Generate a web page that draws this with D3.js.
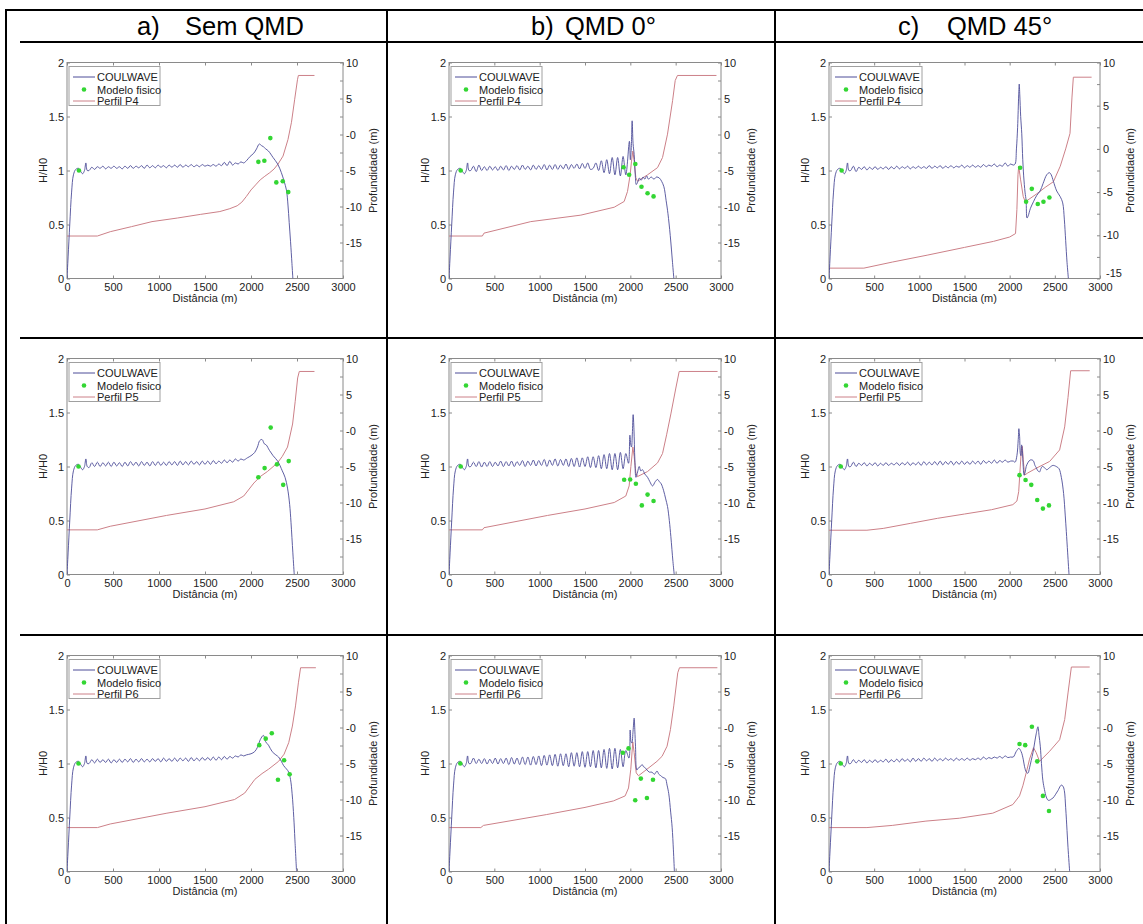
<!DOCTYPE html>
<html>
<head>
<meta charset="utf-8">
<script src="https://cdn.jsdelivr.net/npm/d3@7"></script>
<style>
  body { margin: 0; background: #fff; }
  svg { display: block; font-family: "Liberation Sans", Arial, sans-serif; }
</style>
</head>
<body>
<svg id="fig" width="1143" height="924"></svg>
<script>
// ---------------- data ----------------
const columnTitles = [["a)", "Sem QMD"], ["b)", "QMD 0°"], ["c)", "QMD 45°"]];
const profileNames = ["Perfil P4", "Perfil P5", "Perfil P6"];
const distTicks = [0, 500, 1000, 1500, 2000, 2500, 3000];
const ratioTicks = [0, 0.5, 1, 1.5, 2];
const depthLabels = [10, 5, 0, -5, -10, -15];
const depthTicksDeep = [10, 7.5, 5, 2.5, 0, -2.5, -5, -7.5, -10, -12.5, -15, -17.5];
const depthTicksShallow = [10, 7.5, 5, 2.5, 0, -2.5, -5, -7.5, -10, -12.5, -15];

// COULWAVE H/H0: common entrance, then wave-field samples every 30 m from 240 m, then the shoaling tail
const cwStart = [[0,0],[12,0.2],[30,0.5],[50,0.8],[70,0.96],[95,1.01],[125,1.02],[150,0.99],[170,0.97],[190,1.0],[205,1.07],[220,1.0]];
const waveStep = 30, waveFrom = 240;

const waveSemP4 = [1.00,1.03,1.01,1.035,1.02,1.04,1.015,1.035,1.02,1.04,1.02,1.035,1.015,1.04,1.02,1.045,1.02,1.04,1.025,1.045,1.02,1.05,1.025,1.045,1.025,1.05,1.03,1.045,1.025,1.05,1.03,1.05,1.03,1.055,1.03,1.05,1.035,1.055,1.035,1.05,1.035,1.055,1.04,1.05,1.04,1.055,1.04,1.06,1.045,1.075,1.045,1.085,1.05,1.07,1.06,1.08,1.07,1.09];
const tailSemP4 = [[1990,1.13],[2030,1.16],[2060,1.2],[2090,1.245],[2115,1.23],[2135,1.22],[2160,1.2],[2190,1.18],[2240,1.12],[2290,1.06],[2330,0.98],[2360,0.9],[2385,0.82],[2402,0.68],[2415,0.52],[2430,0.34],[2445,0.14],[2455,0]];
const waveSemP5 = [0.99,1.035,1.0,1.04,1.0,1.035,1.005,1.04,1.0,1.04,1.005,1.035,1.0,1.04,1.005,1.045,1.01,1.04,1.005,1.045,1.01,1.04,1.005,1.045,1.01,1.045,1.01,1.04,1.01,1.045,1.015,1.045,1.01,1.05,1.015,1.045,1.015,1.05,1.02,1.045,1.015,1.05,1.02,1.05,1.02,1.055,1.025,1.05,1.03,1.06,1.035,1.06,1.04,1.07,1.05,1.07,1.06];
const tailSemP5 = [[1960,1.08],[2000,1.1],[2040,1.13],[2070,1.18],[2095,1.24],[2120,1.25],[2145,1.21],[2165,1.2],[2200,1.15],[2240,1.1],[2290,1.05],[2340,0.96],[2370,0.9],[2397,0.8],[2420,0.65],[2435,0.48],[2455,0.2],[2470,0]];
const waveSemP6 = [1.0,1.035,1.005,1.04,1.01,1.035,1.01,1.04,1.005,1.035,1.01,1.04,1.01,1.04,1.015,1.045,1.01,1.04,1.015,1.045,1.015,1.04,1.015,1.045,1.02,1.045,1.015,1.05,1.02,1.045,1.02,1.05,1.02,1.05,1.025,1.05,1.02,1.055,1.025,1.05,1.025,1.055,1.03,1.055,1.03,1.06,1.03,1.06,1.035,1.065,1.04,1.065,1.05,1.07,1.06,1.08,1.07];
const tailSemP6 = [[1950,1.08],[2000,1.09],[2040,1.11],[2070,1.15],[2100,1.22],[2135,1.26],[2160,1.2],[2190,1.17],[2230,1.11],[2270,1.08],[2300,1.06],[2330,1.02],[2355,0.98],[2385,0.95],[2410,0.92],[2430,0.85],[2447,0.72],[2465,0.5],[2477,0.3],[2495,0]];

const waveQ0P4 = [1.0,1.04,0.99,1.05,1.0,1.035,1.0,1.04,1.005,1.035,1.0,1.04,1.005,1.045,1.0,1.04,1.01,1.045,1.005,1.05,1.01,1.04,1.005,1.05,1.01,1.045,1.01,1.055,1.005,1.05,1.01,1.055,1.01,1.05,1.015,1.06,1.01,1.055,1.02,1.06,1.015,1.065,1.02,1.07,1.01,1.02,1.07,1.0,1.09,0.98,1.1,0.97,1.12,0.96,1.12,0.95,1.13,0.96];
const tailQ0P4 = [[1990,1.27],[2000,1.1],[2010,1.2],[2020,1.46],[2030,1.25],[2042,1.15],[2055,0.95],[2065,0.87],[2080,0.89],[2100,0.93],[2120,0.91],[2140,0.94],[2160,0.92],[2180,0.95],[2200,0.92],[2230,0.94],[2260,0.92],[2290,0.94],[2320,0.93],[2345,0.9],[2370,0.85],[2395,0.72],[2415,0.6],[2440,0.4],[2465,0.15],[2480,0]];
const waveQ0P5 = [1.0,1.04,1.0,1.045,0.995,1.04,1.0,1.045,1.0,1.04,1.005,1.05,1.0,1.045,1.005,1.05,1.0,1.045,1.01,1.055,1.0,1.05,1.01,1.06,1.005,1.055,1.01,1.065,1.0,1.06,1.01,1.07,1.005,1.065,1.01,1.07,1.0,1.075,1.0,1.08,0.995,1.08,1.0,1.09,0.99,1.09,0.99,1.1,0.98,1.11,0.98,1.12,0.97,1.12,0.97,1.13,0.98,1.12];
const tailQ0P5 = [[1980,1.03],[1995,1.29],[2005,1.2],[2013,1.18],[2022,1.3],[2031,1.48],[2040,1.34],[2050,1.06],[2062,0.9],[2080,0.95],[2098,1.0],[2115,0.96],[2134,0.97],[2160,0.93],[2190,0.9],[2215,0.86],[2245,0.82],[2275,0.86],[2300,0.88],[2320,0.86],[2340,0.84],[2366,0.78],[2390,0.7],[2410,0.63],[2430,0.5],[2447,0.35],[2470,0.12],[2484,0]];
const waveQ0P6 = [1.0,1.05,1.0,1.04,1.0,1.045,0.995,1.04,1.0,1.05,0.995,1.045,1.0,1.05,0.99,1.055,0.995,1.05,0.99,1.06,0.99,1.06,0.985,1.065,0.99,1.07,0.98,1.075,0.985,1.08,0.98,1.085,0.975,1.09,0.98,1.09,0.97,1.1,0.975,1.1,0.97,1.11,0.965,1.11,0.97,1.12,0.96,1.12,0.96,1.13,0.955,1.14,0.95,1.14,0.96,1.13,0.97,1.12];
const tailQ0P6 = [[1985,1.05],[1998,1.31],[2008,1.2],[2017,1.19],[2030,1.3],[2042,1.42],[2050,1.3],[2057,1.16],[2072,0.94],[2090,0.96],[2109,0.97],[2130,0.99],[2146,0.97],[2165,0.96],[2183,0.94],[2210,0.92],[2239,0.92],[2265,0.9],[2294,0.93],[2315,0.9],[2331,0.89],[2360,0.87],[2387,0.86],[2405,0.8],[2424,0.72],[2445,0.55],[2461,0.41],[2475,0.2],[2486,0]];

const waveQ45P4 = [1.0,1.04,0.99,1.03,1.01,1.035,1.005,1.03,1.01,1.035,1.01,1.03,1.015,1.035,1.01,1.035,1.015,1.04,1.015,1.035,1.02,1.04,1.015,1.035,1.02,1.04,1.02,1.035,1.02,1.045,1.02,1.04,1.025,1.045,1.02,1.04,1.025,1.045,1.025,1.04,1.03,1.05,1.025,1.045,1.03,1.05,1.03,1.045,1.03,1.055,1.035,1.05,1.04,1.06,1.035,1.05,1.04,1.07,1.04,1.06];
const tailQ45P4 = [[2040,1.05],[2060,1.06],[2075,1.2],[2088,1.4],[2100,1.7],[2106,1.8],[2112,1.7],[2122,1.5],[2134,1.34],[2145,1.1],[2155,0.95],[2170,0.8],[2182,0.72],[2192,0.56],[2205,0.58],[2230,0.65],[2263,0.71],[2300,0.77],[2337,0.81],[2370,0.88],[2410,0.96],[2440,0.98],[2460,0.96],[2484,0.9],[2521,0.81],[2558,0.76],[2587,0.7],[2605,0.55],[2620,0.35],[2635,0.15],[2650,0]];
const waveQ45P5 = [1.0,1.04,1.0,1.03,1.01,1.035,1.005,1.03,1.01,1.035,1.005,1.03,1.01,1.035,1.01,1.03,1.015,1.035,1.01,1.035,1.015,1.04,1.01,1.035,1.015,1.04,1.01,1.045,1.015,1.04,1.015,1.045,1.015,1.05,1.015,1.045,1.02,1.05,1.015,1.045,1.02,1.05,1.02,1.045,1.02,1.05,1.025,1.05,1.02,1.055,1.03,1.05,1.03,1.06,1.03,1.055,1.04,1.06,1.04,1.05,1.05];
const tailQ45P5 = [[2060,1.04],[2080,1.1],[2095,1.25],[2102,1.35],[2110,1.28],[2118,1.12],[2125,1.1],[2132,1.2],[2140,1.15],[2150,1.0],[2160,0.92],[2172,0.95],[2183,1.0],[2205,1.04],[2227,1.06],[2250,1.06],[2264,1.05],[2280,1.01],[2294,0.99],[2312,0.96],[2331,0.95],[2346,0.98],[2361,1.0],[2385,0.99],[2410,0.97],[2442,0.99],[2479,1.01],[2516,1.0],[2546,0.98],[2572,0.9],[2597,0.75],[2615,0.55],[2627,0.4],[2642,0.2],[2657,0]];
const waveQ45P6 = [1.0,1.035,1.005,1.03,1.01,1.035,1.005,1.03,1.01,1.035,1.01,1.03,1.015,1.04,1.01,1.035,1.015,1.04,1.015,1.045,1.02,1.04,1.015,1.05,1.02,1.045,1.02,1.05,1.025,1.045,1.02,1.05,1.025,1.045,1.025,1.05,1.03,1.045,1.025,1.05,1.03,1.045,1.03,1.05,1.03,1.045,1.035,1.05,1.035,1.06,1.04,1.055,1.045,1.06,1.05,1.065,1.05,1.07,1.055,1.06];
const tailQ45P6 = [[2040,1.06],[2072,1.11],[2102,1.14],[2127,1.11],[2150,1.04],[2165,0.97],[2185,0.92],[2202,0.91],[2220,0.96],[2239,1.03],[2258,1.1],[2276,1.19],[2295,1.28],[2313,1.34],[2325,1.26],[2339,1.16],[2352,1.0],[2368,0.84],[2385,0.76],[2405,0.69],[2425,0.66],[2442,0.66],[2460,0.67],[2479,0.68],[2505,0.71],[2535,0.75],[2560,0.79],[2572,0.8],[2590,0.79],[2605,0.75],[2620,0.59],[2635,0.38],[2646,0.22],[2664,0]];

// bottom profiles, depth (m)
const profSemP4 = [[0,-14.1],[330,-14.1],[470,-13.5],[700,-12.8],[924,-12.1],[1200,-11.6],[1449,-11.1],[1662,-10.7],[1770,-10.3],[1850,-9.9],[1900,-9.4],[1950,-8.6],[2000,-7.7],[2050,-7.0],[2100,-6.3],[2150,-5.8],[2204,-5.3],[2250,-4.8],[2294,-4.1],[2348,-3.0],[2402,-0.7],[2440,1.7],[2475,4.9],[2505,7.6],[2515,8.2],[2690,8.2]];
const profSemP5 = [[0,-13.8],[329,-13.8],[470,-13.3],[1080,-11.8],[1500,-10.9],[1812,-9.9],[1921,-9.1],[2031,-7.3],[2100,-6.4],[2178,-5.7],[2288,-4.5],[2340,-3.6],[2397,-2.3],[2452,0.9],[2480,4.0],[2507,7.3],[2525,8.2],[2690,8.2]];
const profSemP6 = [[0,-13.9],[331,-13.9],[470,-13.4],[1086,-11.9],[1500,-11.0],[1822,-10.0],[1932,-9.1],[2042,-7.2],[2120,-6.4],[2190,-5.8],[2300,-4.7],[2360,-3.7],[2410,-2.1],[2450,0.2],[2484,3.0],[2515,6.2],[2539,8.3],[2705,8.3]];
const profQ0P4 = [[0,-14.1],[368,-14.1],[386,-13.7],[902,-12.1],[1454,-11.2],[1822,-10.1],[1932,-9.3],[1969,-7.9],[1998,-5.6],[2013,-3.7],[2028,-2.3],[2042,-3.7],[2061,-6.0],[2079,-6.5],[2190,-5.6],[2300,-4.6],[2355,-3.2],[2410,0.05],[2466,4.7],[2495,7.5],[2520,8.2],[2950,8.2]];
const profQ0P5 = [[0,-13.8],[368,-13.8],[386,-13.5],[1086,-11.8],[1500,-10.9],[1822,-10.0],[1950,-9.1],[1987,-7.7],[2006,-5.0],[2028,-2.3],[2042,-3.6],[2061,-5.9],[2079,-6.4],[2190,-5.7],[2300,-4.5],[2355,-3.2],[2400,-0.6],[2447,2.3],[2502,5.9],[2539,8.2],[2962,8.2]];
const profQ0P6 = [[0,-13.9],[351,-13.9],[380,-13.6],[1073,-12.1],[1500,-11.1],[1813,-10.2],[1943,-9.5],[1980,-8.4],[2005,-5.8],[2027,-2.0],[2042,-3.5],[2065,-6.3],[2090,-6.7],[2183,-5.8],[2294,-4.7],[2350,-4.0],[2405,-2.6],[2442,-0.3],[2479,3.0],[2523,7.6],[2542,8.3],[2960,8.3]];
const profQ45P4 = [[0,-13.8],[386,-13.8],[700,-13.1],[1086,-12.3],[1500,-11.4],[1822,-10.7],[2000,-10.2],[2065,-9.8],[2080,-7.0],[2092,-3.0],[2100,-2.0],[2120,-3.5],[2150,-5.5],[2175,-6.2],[2190,-6.0],[2300,-5.2],[2400,-4.4],[2484,-3.8],[2560,-2.0],[2620,0.0],[2668,1.8],[2690,6.0],[2705,8.3],[2907,8.3]];
const profQ45P5 = [[0,-13.85],[420,-13.85],[600,-13.6],[900,-12.9],[1200,-12.2],[1500,-11.6],[1800,-11.0],[2035,-10.3],[2080,-9.8],[2100,-8.5],[2115,-5.5],[2130,-2.5],[2140,-2.2],[2150,-4.0],[2165,-6.2],[2200,-5.9],[2300,-5.2],[2442,-4.3],[2553,-2.7],[2609,0.5],[2646,4.6],[2675,8.3],[2886,8.3]];
const profQ45P6 = [[0,-13.9],[420,-13.9],[700,-13.6],[1073,-13.0],[1443,-12.6],[1813,-11.9],[2035,-10.7],[2109,-9.5],[2146,-8.1],[2183,-6.3],[2220,-4.4],[2264,-2.8],[2294,-3.5],[2331,-4.7],[2442,-3.3],[2553,-1.7],[2609,1.1],[2646,4.8],[2683,8.4],[2886,8.4]];

// physical model gauges, H/H0
const obsSemP4 = [[130,1.0],[2080,1.08],[2145,1.09],[2210,1.3],[2275,0.89],[2345,0.9],[2405,0.8]];
const obsSemP5 = [[125,1.0],[2080,0.9],[2148,0.985],[2214,1.36],[2282,1.02],[2350,0.83],[2410,1.05]];
const obsSemP6 = [[125,1.0],[2090,1.17],[2160,1.23],[2226,1.28],[2293,0.85],[2360,1.03],[2420,0.9]];
const obsQ0P4 = [[129,1.0],[1925,1.03],[1987,0.96],[2055,1.06],[2123,0.85],[2190,0.79],[2256,0.76]];
const obsQ0P5 = [[129,1.0],[1932,0.877],[1998,0.88],[2061,0.84],[2127,0.64],[2190,0.74],[2256,0.68]];
const obsQ0P6 = [[125,1.0],[1917,1.1],[1980,1.14],[2054,0.66],[2116,0.86],[2183,0.68],[2250,0.85]];
const obsQ45P4 = [[140,1.0],[2116,1.025],[2182,0.71],[2245,0.83],[2311,0.69],[2374,0.71],[2440,0.75]];
const obsQ45P5 = [[130,1.0],[2109,0.92],[2176,0.875],[2239,0.83],[2305,0.69],[2368,0.61],[2435,0.64]];
const obsQ45P6 = [[130,1.0],[2109,1.18],[2172,1.17],[2246,1.34],[2305,1.02],[2368,0.7],[2435,0.56]];

// ---------------- layout ----------------
const svg = d3.select("#fig");
const tableLeft = 6, tableRight = 1143, tableTop = 10, tableBottom = 924;
const colLines = [387, 775];
const headerBottom = 42;
const rowLines = [338, 635];
const rowTops = [42, 338, 635];
const plotX = [[67, 343], [449, 721], [829, 1100]];
const plotOffsetTop = 20.5, plotH = 216;

const cwColor = "#4d4d98";
const profColor = "#cc8088";
const obsColor = "#33d633";
const axisColor = "#8a8a8a";
const textColor = "#222";

const panels = [
  {r:0,c:0,wave:waveSemP4,tail:tailSemP4,prof:profSemP4,obs:obsSemP4,dmin:-20,zero:"-0"},
  {r:0,c:1,wave:waveQ0P4,tail:tailQ0P4,prof:profQ0P4,obs:obsQ0P4,dmin:-20,zero:"0"},
  {r:0,c:2,wave:waveQ45P4,tail:tailQ45P4,prof:profQ45P4,obs:obsQ45P4,dmin:-15,zero:"0"},
  {r:1,c:0,wave:waveSemP5,tail:tailSemP5,prof:profSemP5,obs:obsSemP5,dmin:-20,zero:"-0"},
  {r:1,c:1,wave:waveQ0P5,tail:tailQ0P5,prof:profQ0P5,obs:obsQ0P5,dmin:-20,zero:"-0"},
  {r:1,c:2,wave:waveQ45P5,tail:tailQ45P5,prof:profQ45P5,obs:obsQ45P5,dmin:-20,zero:"-0"},
  {r:2,c:0,wave:waveSemP6,tail:tailSemP6,prof:profSemP6,obs:obsSemP6,dmin:-20,zero:"-0"},
  {r:2,c:1,wave:waveQ0P6,tail:tailQ0P6,prof:profQ0P6,obs:obsQ0P6,dmin:-20,zero:"-0"},
  {r:2,c:2,wave:waveQ45P6,tail:tailQ45P6,prof:profQ45P6,obs:obsQ45P6,dmin:-20,zero:"-0"}
];

// ---------------- table frame ----------------
const frame = svg.append("g").attr("stroke", "#000").attr("stroke-width", 2);
frame.append("line").attr("x1", tableLeft - 1).attr("x2", tableRight).attr("y1", tableTop).attr("y2", tableTop);
frame.append("line").attr("x1", tableLeft).attr("x2", tableLeft).attr("y1", tableTop).attr("y2", tableBottom);
colLines.forEach(x => frame.append("line").attr("x1", x).attr("x2", x).attr("y1", tableTop).attr("y2", tableBottom));
[headerBottom, ...rowLines].forEach(y => frame.append("line").attr("x1", 20).attr("x2", tableRight).attr("y1", y).attr("y2", y));

// column headings
const headPos = [[137, 185], [531, 565], [898, 947]];
columnTitles.forEach((t, i) => {
  const g = svg.append("g").attr("font-size", 25.5).attr("fill", "#000");
  g.append("text").attr("x", headPos[i][0]).attr("y", 34.5).text(t[0]);
  g.append("text").attr("x", headPos[i][1]).attr("y", 34.5).text(t[1]);
});

// ---------------- panels ----------------
panels.forEach((p, idx) => {
  const [L, R] = plotX[p.c];
  const T = rowTops[p.r] + plotOffsetTop, B = T + plotH;
  const x = d3.scaleLinear().domain([0, 3000]).range([L, R]);
  const yH = d3.scaleLinear().domain([0, 2]).range([B, T]);
  const yD = d3.scaleLinear().domain([p.dmin, 10]).range([B, T]);
  const g = svg.append("g");

  const clipId = "clip" + idx;
  g.append("clipPath").attr("id", clipId).append("rect")
    .attr("x", L).attr("y", T - 1).attr("width", R - L).attr("height", plotH + 1);

  // box
  g.append("rect").attr("x", L).attr("y", T).attr("width", R - L).attr("height", plotH)
    .attr("fill", "none").attr("stroke", axisColor).attr("stroke-width", 1);

  // bottom axis
  const axB = g.append("g").attr("transform", `translate(0,${B})`)
    .call(d3.axisBottom(x).tickValues(distTicks).tickSizeInner(-3).tickSizeOuter(0).tickPadding(5).tickFormat(d3.format("d")));
  // top ticks
  const axT = g.append("g").attr("transform", `translate(0,${T})`)
    .call(d3.axisTop(x).tickValues(distTicks).tickSizeInner(-3).tickSizeOuter(0).tickFormat(""));
  // left axis
  const axL = g.append("g").attr("transform", `translate(${L},0)`)
    .call(d3.axisLeft(yH).tickValues(ratioTicks).tickSizeInner(-3).tickSizeOuter(0).tickPadding(3).tickFormat(d => String(d)));
  // right axis
  const dTicks = p.dmin === -20 ? depthTicksDeep : depthTicksShallow;
  const axR = g.append("g").attr("transform", `translate(${R},0)`)
    .call(d3.axisRight(yD).tickValues(dTicks).tickSizeInner(-3).tickSizeOuter(0).tickPadding(3)
      .tickFormat(d => depthLabels.includes(d) ? (d === 0 ? p.zero : String(d)) : ""));

  [axB, axT, axL, axR].forEach(a => {
    a.select(".domain").remove();
    a.selectAll("line").attr("stroke", axisColor);
    a.selectAll("text").attr("fill", textColor).attr("font-size", 11)
      .attr("font-family", '"Liberation Sans", Arial, sans-serif');
  });
  // the lowest depth label sits on the corner of the shallow-range panel: lift it clear of the distance labels
  if (p.dmin === -15) {
    axR.selectAll(".tick").filter(d => d === -15).select("text").attr("dy", "-0.15em").attr("x", 6);
  }

  // axis titles
  g.append("text").attr("x", (L + R) / 2).attr("y", B + 23).attr("text-anchor", "middle")
    .attr("font-size", 11).attr("fill", textColor).text("Distância (m)");
  g.append("text").attr("transform", `translate(${L - 20},${(T + B) / 2}) rotate(-90)`)
    .attr("text-anchor", "middle").attr("font-size", 11).attr("fill", textColor).text("H/H0");
  g.append("text").attr("transform", `translate(${R + 34},${(T + B) / 2}) rotate(-90)`)
    .attr("text-anchor", "middle").attr("font-size", 11).attr("fill", textColor).text("Profundidade (m)");

  const plot = g.append("g").attr("clip-path", `url(#${clipId})`);

  // bottom profile
  plot.append("path").datum(p.prof)
    .attr("fill", "none").attr("stroke", profColor).attr("stroke-width", 1)
    .attr("d", d3.line().x(d => x(d[0])).y(d => yD(d[1])));

  // COULWAVE series
  const firstTail = p.tail[0][0];
  const wavePts = p.wave.map((v, i) => [waveFrom + waveStep * i, v]).filter(d => d[0] < firstTail - 5);
  const cw = cwStart.concat(wavePts, p.tail);
  plot.append("path").datum(cw)
    .attr("fill", "none").attr("stroke", cwColor).attr("stroke-width", 0.9)
    .attr("d", d3.line().x(d => x(d[0])).y(d => yH(d[1])).curve(d3.curveCatmullRom.alpha(0.5)));

  // physical model points
  plot.selectAll("circle.obs").data(p.obs).join("circle").attr("class", "obs")
    .attr("cx", d => x(d[0])).attr("cy", d => yH(d[1])).attr("r", 2.3).attr("fill", obsColor);

  // legend
  const lg = g.append("g").attr("transform", `translate(${L + 2},${T + 4})`);
  lg.append("rect").attr("width", 91).attr("height", 39).attr("fill", "#fff").attr("stroke", "#a0a0a0");
  const rows = [10.5, 23, 34.5];
  lg.append("line").attr("x1", 4).attr("x2", 26).attr("y1", rows[0]).attr("y2", rows[0]).attr("stroke", cwColor);
  lg.append("circle").attr("cx", 15).attr("cy", rows[1]).attr("r", 2.3).attr("fill", obsColor);
  lg.append("line").attr("x1", 4).attr("x2", 26).attr("y1", rows[2]).attr("y2", rows[2]).attr("stroke", profColor);
  ["COULWAVE", "Modelo fisico", profileNames[p.r]].forEach((t, i) => {
    lg.append("text").attr("x", 28).attr("y", rows[i] + 4).attr("font-size", 11).attr("fill", textColor).text(t);
  });
});
</script>
</body>
</html>
